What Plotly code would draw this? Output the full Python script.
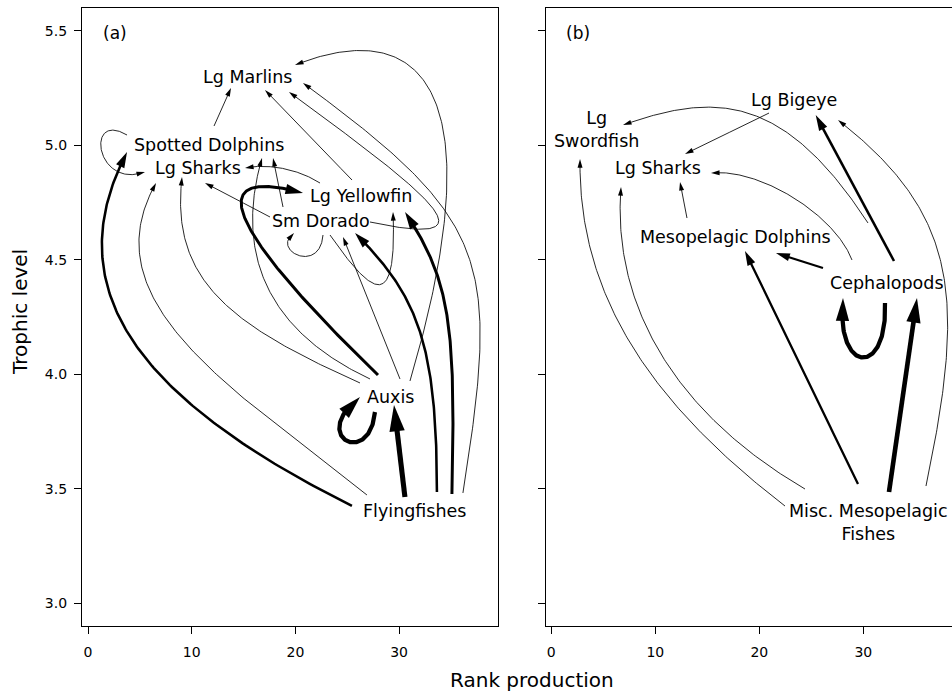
import numpy as np
import plotly.graph_objects as go

# ---------------------------------------------------------------------------
# Panel (a): flying-fish / Auxis pathway
A_GROUPS = ["Lg Marlins", "Spotted Dolphins", "Lg Sharks", "Lg Yellowfin",
            "Sm Dorado", "Auxis", "Flyingfishes"]
A_LABELS = ["Lg Marlins", "Spotted Dolphins", "Lg Sharks", "Lg Yellowfin",
            "Sm Dorado", "Auxis", "Flyingfishes"]
A_RANK = [15.4, 11.7, 10.6, 26.3, 22.5, 29.2, 31.5]
A_TROPHIC = [5.30, 5.00, 4.90, 4.78, 4.67, 3.90, 3.40]

A_FROM = ["Spotted Dolphins", "Spotted Dolphins", "Flyingfishes", "Flyingfishes",
          "Auxis", "Auxis", "Auxis", "Auxis", "Auxis", "Auxis",
          "Flyingfishes", "Flyingfishes", "Flyingfishes", "Flyingfishes",
          "Sm Dorado", "Sm Dorado", "Sm Dorado", "Sm Dorado", "Sm Dorado",
          "Lg Yellowfin", "Lg Yellowfin"]
A_TO = ["Lg Marlins", "Lg Sharks", "Spotted Dolphins", "Lg Sharks",
        "Lg Sharks", "Spotted Dolphins", "Lg Yellowfin", "Sm Dorado", "Lg Marlins", "Auxis",
        "Auxis", "Sm Dorado", "Lg Yellowfin", "Lg Marlins",
        "Lg Sharks", "Spotted Dolphins", "Sm Dorado", "Lg Yellowfin", "Lg Marlins",
        "Lg Sharks", "Lg Marlins"]
A_FLOW = [1, 1, 3, 1,
          1, 1, 3.5, 1, 1, 5,
          6, 3, 3.5, 1,
          1, 1, 1, 1, 1,
          1, 1]

# Panel (b): mesopelagic pathway
B_GROUPS = ["Lg Bigeye", "Lg Swordfish", "Lg Sharks", "Mesopelagic Dolphins",
            "Cephalopods", "Misc. Mesopelagic Fishes"]
B_LABELS = ["Lg Bigeye", "Lg<br>Swordfish", "Lg Sharks", "Mesopelagic Dolphins",
            "Cephalopods", "Misc. Mesopelagic<br>Fishes"]
B_RANK = [23.3, 4.3, 10.3, 17.7, 32.25, 30.5]
B_TROPHIC = [5.20, 5.07, 4.90, 4.60, 4.40, 3.35]

B_FROM = ["Lg Bigeye", "Cephalopods", "Misc. Mesopelagic Fishes", "Cephalopods",
          "Cephalopods", "Misc. Mesopelagic Fishes", "Misc. Mesopelagic Fishes",
          "Mesopelagic Dolphins", "Cephalopods", "Misc. Mesopelagic Fishes",
          "Cephalopods", "Misc. Mesopelagic Fishes"]
B_TO = ["Lg Sharks", "Lg Bigeye", "Lg Bigeye", "Lg Swordfish",
        "Lg Sharks", "Lg Swordfish", "Lg Sharks",
        "Lg Sharks", "Mesopelagic Dolphins", "Mesopelagic Dolphins",
        "Cephalopods", "Cephalopods"]
B_FLOW = [1, 3, 1, 1,
          1, 1, 1,
          1, 2.5, 2.7,
          5, 5.5]

X_TICKS = [0, 10, 20, 30]
Y_TICKS = [3.0, 3.5, 4.0, 4.5, 5.0, 5.5]

# ---------------------------------------------------------------------------
# Curve routing in screen pixels (y grows downwards):
# (start offset from source label, tip offset from target label,
#  first Bezier handle from start, second Bezier handle from tip)
S = (0, 0)
A_ROUTE = [
    ((4.7, -19.4), (-16.7, 11.2), S, S),
    ((-82.3, -10.4), (-52.9, 3.7), (-42, -25), (-50, 18)),
    ((-62.7, -5.5), (-82.3, 6.6), (-212, -106), (-72, 138)),
    ((-47.7, -16.5), (-41.9, 14.7), (-140, -110), (-66, 117)),
    ((-30.8, -14.1), (-15.9, 8.7), (-130, -58), (-12, 103)),
    ((-20.8, -18.1), (52.7, 12.6), (-115, -54), (-24, 82)),
    ((-12.8, -22.1), (-57.7, -2.7), (-179, -173), (-83, -23)),
    ((9.2, -18.1), (21.7, 16.1), S, S),
    ((19.2, -16.1), (47.3, -11.8), (80, -270), (140, -55)),
    ((-15.8, 14.9), (-30.8, -0.1), (-5, 56), (-52, 40)),
    ((-9.7, -14.5), (3.2, 7.9), S, S),
    ((22.3, -19.5), (33.7, 12.1), (0, -150), (62, 62)),
    ((37.3, -17.5), (44.3, 16.3), (4, -170), (45, 68)),
    ((48.3, -18.5), (55.3, 6.2), (37, -233), (187, 137)),
    ((-51.3, -3.9), (7.1, 14.7), S, S),
    ((-38.3, -13.9), (63.7, 12.6), S, S),
    ((1.7, 14.1), (-27.3, 12.1), (-3, 40), (-24, 17)),
    ((8.7, 14.1), (32.3, 16.3), (45, 65), (4, 98)),
    ((48.7, 1.1), (41.3, 15.2), (130, 28), (141, 103)),
    ((-40.7, -12.7), (47.1, -0.3), (-20, -13), (25, -5)),
    ((-8.7, -15.7), (17.3, 13.2), S, S),
]
B_ROUTE = [
    ((-24.6, 13.4), (26.6, -14.3), S, S),
    ((7.3, -21.7), (22.1, 15.4), S, S),
    ((57.5, -36.9), (44.4, 20.4), (39, -186), (122, 95)),
    ((-18.7, -59.7), (27.0, -4.3), (-84, -129), (92, -33)),
    ((-34.7, -22.7), (52.6, 4.7), (-17, -45), (49, -5)),
    ((-83.5, -16.9), (-16.0, 29.7), (-130, -100), (-2, 140)),
    ((-63.5, -33.9), (-37.4, 18.7), (-135, -79), (-9, 113)),
    ((-48.4, -18.9), (21.6, 13.7), S, S),
    ((-63.7, -14.7), (40.6, 16.1), S, S),
    ((-10.5, -38.9), (9.6, 14.1), S, S),
    ((-1.7, 20.3), (-43.7, 15.3), (3, 76), (-8, 76)),
    ((20.5, -30.9), (30.3, 15.3), S, S),
]

# ---------------------------------------------------------------------------
W, H = 952, 694
TOP, BOTTOM = 8, 626
Y_RANGE = (2.8995, 5.6005)
PANELS = {
    "a": dict(left=82, right=498, xrange=(-0.58, 39.54), xref="x", yref="y"),
    "b": dict(left=546, right=952, xrange=(-0.51, 38.53), xref="x2", yref="y2"),
}
FONT = "DejaVu Sans"


def to_px(p, x, y):
    x0, x1 = p["xrange"]
    px = p["left"] + (x - x0) / (x1 - x0) * (p["right"] - p["left"])
    py = TOP + (Y_RANGE[1] - y) / (Y_RANGE[1] - Y_RANGE[0]) * (BOTTOM - TOP)
    return np.array([px, py])


def to_data(p, pts):
    x0, x1 = p["xrange"]
    x = x0 + (pts[:, 0] - p["left"]) / (p["right"] - p["left"]) * (x1 - x0)
    y = Y_RANGE[1] - (pts[:, 1] - TOP) / (BOTTOM - TOP) * (Y_RANGE[1] - Y_RANGE[0])
    return x, y


def bezier(p0, c1, c2, p3, n=160):
    t = np.linspace(0, 1, n)[:, None]
    return ((1 - t) ** 3) * p0 + 3 * ((1 - t) ** 2) * t * c1 + 3 * (1 - t) * t ** 2 * c2 + t ** 3 * p3


def shaft_and_head(pts, width):
    L = 5 + 4.2 * width
    hw = 0.29 * L
    tip = pts[-1]
    d = np.hypot(pts[:, 0] - tip[0], pts[:, 1] - tip[1])
    far = np.where(d >= L)[0]
    back = pts[far[-1]] if len(far) else pts[0]
    u = (tip - back) / np.linalg.norm(tip - back)
    nrm = np.array([-u[1], u[0]])
    base = tip - u * L
    head = np.array([tip, base + nrm * hw, base - nrm * hw, tip])
    keep = np.where(d >= 0.75 * L)[0]
    last = keep[-1] if len(keep) else 0
    shaft = np.vstack([pts[:last + 1], tip - u * 0.75 * L])
    return shaft, head


fig = go.Figure()
annotations = []


def draw_panel(key, groups, labels, rank, trophic, src, dst, flow, route):
    p = PANELS[key]
    pos = {g: to_px(p, x, y) for g, x, y in zip(groups, rank, trophic)}
    for s, t, f, (so, eo, h1, h2) in zip(src, dst, flow, route):
        p0 = pos[s] + np.array(so)
        p3 = pos[t] + np.array(eo)
        c1 = p0 + np.array(h1)
        c2 = p3 + np.array(h2)
        width = 0.85 * f
        shaft, head = shaft_and_head(bezier(p0, c1, c2, p3), width)
        sx, sy = to_data(p, shaft)
        hx, hy = to_data(p, head)
        fig.add_trace(go.Scatter(x=sx, y=sy, mode="lines",
                                 line=dict(color="black", width=width),
                                 xaxis=p["xref"], yaxis=p["yref"],
                                 hoverinfo="skip", showlegend=False))
        fig.add_trace(go.Scatter(x=hx, y=hy, mode="lines", fill="toself",
                                 fillcolor="black", line=dict(color="black", width=0),
                                 xaxis=p["xref"], yaxis=p["yref"],
                                 hoverinfo="skip", showlegend=False))
    for lab, x, y in zip(labels, rank, trophic):
        annotations.append(dict(x=x, y=y, xref=p["xref"], yref=p["yref"], text=lab,
                                showarrow=False, xanchor="center", yanchor="middle",
                                font=dict(family=FONT, size=17.5, color="black")))


draw_panel("a", A_GROUPS, A_LABELS, A_RANK, A_TROPHIC, A_FROM, A_TO, A_FLOW, A_ROUTE)
draw_panel("b", B_GROUPS, B_LABELS, B_RANK, B_TROPHIC, B_FROM, B_TO, B_FLOW, B_ROUTE)

# panel tags and shared axis titles
paper = dict(xref="paper", yref="paper", showarrow=False, xanchor="center", yanchor="middle")
annotations += [
    dict(x=115 / W, y=1 - 33 / H, text="(a)",
         font=dict(family=FONT, size=17, color="black"), **paper),
    dict(x=578 / W, y=1 - 33 / H, text="(b)",
         font=dict(family=FONT, size=17, color="black"), **paper),
    dict(x=532 / W, y=1 - 680 / H, text="Rank production",
         font=dict(family=FONT, size=20, color="black"), **paper),
    dict(x=20 / W, y=1 - 312 / H, text="Trophic level", textangle=-90,
         font=dict(family=FONT, size=20, color="black"), **paper),
]

tickfont = dict(family=FONT, size=14, color="black")
common_x = dict(tickvals=X_TICKS, ticks="outside", ticklen=7, tickwidth=1,
                tickcolor="black", showline=True, linecolor="black", linewidth=1.2,
                mirror=True, showgrid=False, zeroline=False, tickfont=tickfont,
                ticklabelstandoff=6, automargin=False)
ydom = [1 - BOTTOM / H, 1 - TOP / H]
common_y = dict(range=list(Y_RANGE), domain=ydom, tickvals=Y_TICKS, tickformat=".1f",
                ticks="outside", ticklen=7, tickwidth=1, tickcolor="black", showline=True,
                linecolor="black", linewidth=1.2, showgrid=False, zeroline=False,
                tickfont=tickfont, ticklabelstandoff=4, automargin=False)

fig.update_layout(
    width=W, height=H, margin=dict(l=0, r=0, t=0, b=0),
    plot_bgcolor="white", paper_bgcolor="white",
    xaxis={**common_x, "range": list(PANELS["a"]["xrange"]),
           "domain": [PANELS["a"]["left"] / W, PANELS["a"]["right"] / W], "anchor": "y"},
    yaxis={**common_y, "anchor": "x", "mirror": True},
    xaxis2={**common_x, "range": list(PANELS["b"]["xrange"]),
            "domain": [PANELS["b"]["left"] / W, 1.0], "anchor": "y2"},
    yaxis2={**common_y, "anchor": "x2", "mirror": False, "showticklabels": False},
    annotations=annotations,
)

fig.write_html("out.html")
